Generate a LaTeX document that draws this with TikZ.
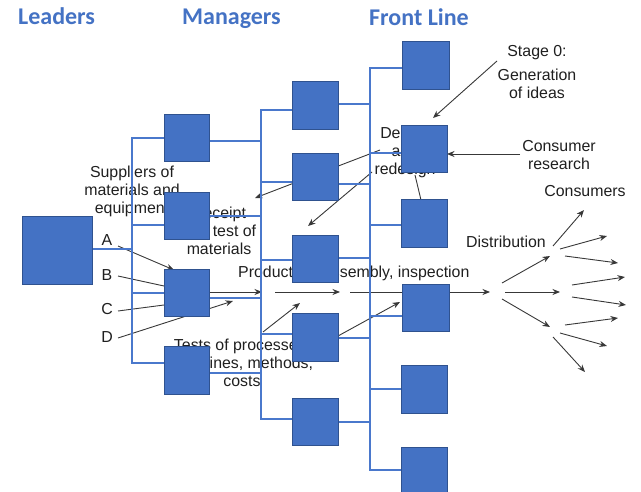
\documentclass[tikz,border=0pt]{standalone}
\usepackage{fontspec}
\setmainfont{Liberation Sans}
\newfontfamily\titlefont{Carlito}
\usetikzlibrary{arrows.meta}
\definecolor{boxblue}{HTML}{4472C4}
\definecolor{boxedge}{HTML}{2F528F}
\definecolor{linblue}{HTML}{4A78CC}
\pgfdeclarelayer{bg}\pgfdeclarelayer{mid}\pgfsetlayers{bg,mid,main}
\begin{document}
\begin{tikzpicture}[x=1pt,y=-1pt,
  box/.style={draw=boxedge,fill=boxblue,line width=1pt,inner sep=0pt,outer sep=0pt,minimum width=46pt,minimum height=47pt},
  ttl/.style={font=\titlefont\bfseries\fontsize{24}{28}\selectfont,text=boxblue,inner sep=0pt,anchor=base west},
  lbl/.style={font=\fontsize{15.9}{18}\selectfont,text=black!88,inner sep=0pt,align=center},
  arr/.style={draw=black!78,line width=0.9pt,-{Stealth[length=7.5pt,width=6pt]}},
  gl/.style={draw=black!78,line width=0.9pt},
  bl/.style={draw=linblue,line width=1.8pt}]
\useasboundingbox (0,0) rectangle (641,492);

% titles
\node[ttl] (tL) at (18,25) {Leaders};
\node[ttl] (tM) at (182,25) {Managers};
\node[ttl] (tF) at (369,26) {Front Line};

% boxes
\node[box,minimum width=70pt,minimum height=68pt] (L) at (57,251) {};
\node[box,minimum width=45pt] (M1) at (186.5,138.5) {};
\node[box,minimum width=45pt] (M2) at (186.5,216.5) {};
\node[box,minimum width=45pt] (M3) at (186.5,293.5) {};
\node[box,minimum width=45pt] (M4) at (186.5,370.5) {};
\node[box,minimum height=48pt] (M5) at (315,106) {};
\node[box] (M6) at (315,177.5) {};
\node[box] (M7) at (315,259) {};
\node[box,minimum height=48pt] (M8) at (315,338) {};
\node[box] (M9) at (315,421.5) {};
\node[box,minimum width=47pt,minimum height=48pt] (F1) at (425.5,66) {};
\node[box] (F2) at (424,149.5) {};
\node[box,minimum height=48pt] (F3) at (424,224) {};
\node[box,minimum width=47pt] (F4) at (425.5,308.5) {};
\node[box] (F5) at (424,389.5) {};
\node[box,minimum height=46pt] (F6) at (424,470) {};

\begin{pgfonlayer}{mid}
% leaders bracket
\draw[bl] (L.east |- 0,249) -- (132,249);
\draw[bl] (M1.west |- 0,138) -- (132,138) -- (132,363) -- (M4.west |- 0,363);
\draw[bl] (132,225) -- (M2.west |- 0,225);
\draw[bl] (132,293) -- (M3.west |- 0,293);
% managers bracket
\draw[bl] (M1.east |- 0,141) -- (261,141);
\draw[bl] (M2.east |- 0,216) -- (261,216);
\draw[bl] (M3.east |- 0,298) -- (261,298);
\draw[bl] (M4.east |- 0,373) -- (261,373);
\draw[bl] (M5.west |- 0,110) -- (261,110) -- (261,419) -- (M9.west |- 0,419);
\draw[bl] (261,182) -- (M6.west |- 0,182);
\draw[bl] (261,260) -- (M7.west |- 0,260);
\draw[bl] (261,334) -- (M8.west |- 0,334);
% front line bracket
\draw[bl] (M5.east |- 0,104) -- (370,104);
\draw[bl] (M6.east |- 0,184) -- (370,184);
\draw[bl] (M7.east |- 0,258) -- (370,258);
\draw[bl] (M8.east |- 0,338) -- (370,338);
\draw[bl] (M9.east |- 0,422) -- (370,422);
\draw[bl] (F1.west |- 0,68) -- (370,68) -- (370,470) -- (F6.west |- 0,470);
\draw[bl] (370,153) -- (F2.west |- 0,153);
\draw[bl] (370,225) -- (F3.west |- 0,225);
\draw[bl] (370,316) -- (F4.west |- 0,316);
\draw[bl] (370,389) -- (F5.west |- 0,389);
\end{pgfonlayer}

\begin{pgfonlayer}{bg}
% texts
\node[lbl,anchor=north] (stage) at (537,45.5) {Stage 0:\\[6pt]Generation\\of ideas};
\node[lbl,anchor=north] (design) at (405,126.5) {Design\\and\\redesign};
\node[lbl,anchor=north] (cres) at (559,140.5) {Consumer\\research};
\node[lbl,anchor=base] (cons) at (585,197) {Consumers};
\node[lbl,anchor=base] (dist) at (506,248) {Distribution};
\node[lbl,anchor=north] (supp) at (132,165.5) {Suppliers of\\materials and\\equipment};
\node[lbl,anchor=north] (rec) at (219,206.5) {Receipt\\and test of\\materials};
\node[lbl,anchor=base west] (prod) at (238,278) {Production, assembly, inspection};
\node[lbl,anchor=north] (tests) at (242,338.5) {Tests of processes,\\machines, methods,\\costs};
\node[lbl,anchor=base] (A) at (107,246) {A};
\node[lbl,anchor=base] (B) at (107,280.5) {B};
\node[lbl,anchor=base] (C) at (107,314.5) {C};
\node[lbl,anchor=base] (D) at (107,342.5) {D};

% gray arrows
\draw[arr] (497,61) -- (433,118);
\draw[arr] (520,154) -- (F2.east |- 0,154);
\draw[arr] (380,150) -- (255,198);
\draw[arr] (372,172) -- (308,226);
\draw[gl] (415,175) -- (421,200);
\draw[arr] (118,246) -- (174,270);
\draw[gl] (118,276) -- (M3.west |- 0,286);
\draw[gl] (118,311) -- (M3.west |- 0,305);
\draw[arr] (118,338) -- (233,301);
\draw[arr] (M3.east |- 0,292) -- (262,292);
\draw[arr] (275,292) -- (340,292);
\draw[arr] (350,292) -- (490,292);
\draw[arr] (263,332) -- (300,303);
\draw[arr] (M8.east |- 0,336) -- (400,302);
% distribution fan
\draw[arr] (502,283) -- (550,256);
\draw[arr] (505,292) -- (560,292);
\draw[arr] (502,299) -- (550,327);
\draw[arr] (553,246) -- (584,210);
\draw[arr] (560,249) -- (607,236);
\draw[arr] (565,256) -- (618,263);
\draw[arr] (572,285) -- (625,277);
\draw[arr] (572,297) -- (626,305);
\draw[arr] (565,325) -- (618,318);
\draw[arr] (560,333) -- (607,346);
\draw[arr] (553,337) -- (585,372);
\end{pgfonlayer}
\end{tikzpicture}
\end{document}
